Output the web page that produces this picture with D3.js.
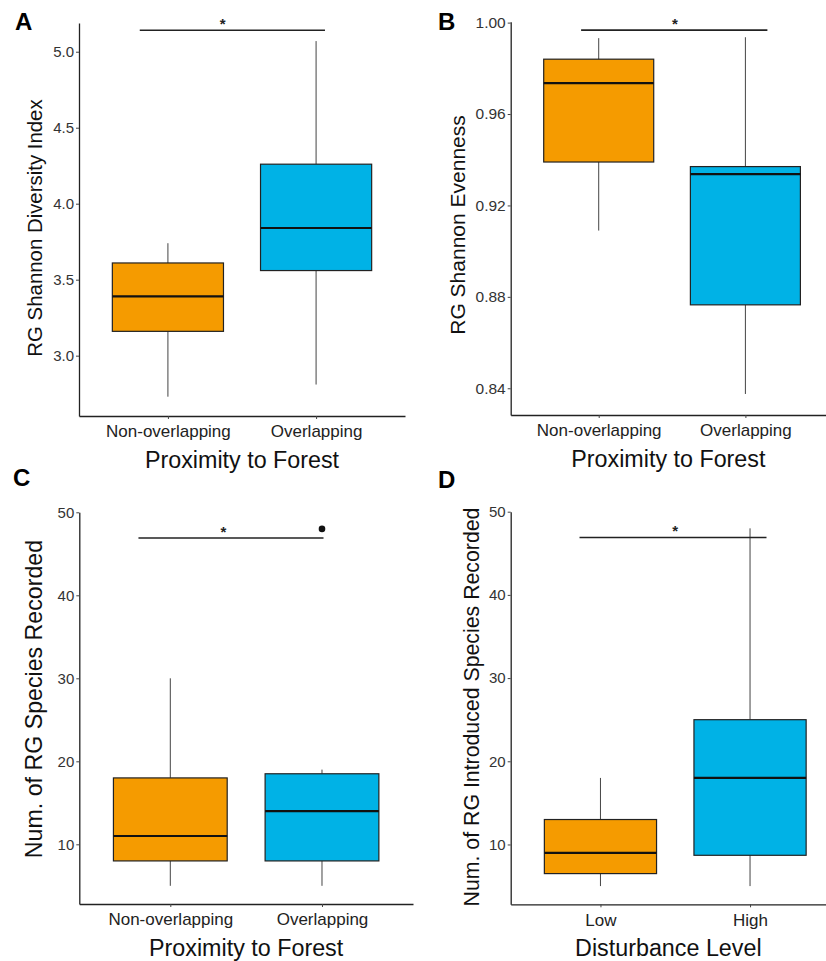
<!DOCTYPE html>
<html>
<head>
<meta charset="utf-8">
<script src="https://cdn.jsdelivr.net/npm/d3@7"></script>
<style>
  body { margin: 0; background: #fff; }
  text { font-family: "Liberation Sans", Arial, sans-serif; }
</style>
</head>
<body>
<div id="chart"></div>
<script>
const proximityGroups = ["Non-overlapping", "Overlapping"];
const disturbanceGroups = ["Low", "High"];
const boxColors = ["#F59B00", "#00B2E6"];

// [lower whisker, Q1, median, Q3, upper whisker]
const diversityIndex = [[2.73, 3.16, 3.39, 3.61, 3.74], [2.81, 3.56, 3.84, 4.26, 5.07]];
const evenness = [[0.909, 0.939, 0.9735, 0.984, 0.9932], [0.8375, 0.8765, 0.9337, 0.937, 0.9936]];
const speciesRecorded = [[5, 8, 11, 18, 30], [5, 8, 14, 18.5, 19]];
const speciesOutliers = [[], [48]];
const introducedRecorded = [[5, 6.5, 9, 13, 18], [5, 8.7, 18, 25, 48]];

const ticksDiversity = [3.0, 3.5, 4.0, 4.5, 5.0];
const ticksEvenness = [0.84, 0.88, 0.92, 0.96, 1.00];
const ticksCount = [10, 20, 30, 40, 50];

// significance bars: y value, x extent (group units), star position
const sigDiversity = { value: 5.141, from: 0.81, to: 2.06, star: 1.37 };
const sigEvenness = { value: 0.9967, from: 0.88, to: 2.15, star: 1.52 };
const sigSpecies = { value: 46.9, from: 0.79, to: 2.01, star: 1.35 };
const sigIntroduced = { value: 46.9, from: 0.86, to: 2.11, star: 1.5 };

const svg = d3.select("#chart").append("svg")
    .attr("width", 826)
    .attr("height", 961);

const panels = [
  { label: "A", lx: 15, ly: 30, left: 79, right: 405, top: 23, bottom: 416,
    yDomain: [2.603, 5.189], ticks: ticksDiversity, fmt: d3.format(".1f"), tickFont: 15,
    groups: proximityGroups, stats: diversityIndex, outliers: [[], []], sig: sigDiversity,
    yTitle: "RG Shannon Diversity Index", yTitleX: 41.5, yTitleY: 228, yTitleSize: 20.4,
    xTitle: "Proximity to Forest" },
  { label: "B", lx: 438, ly: 30, left: 510.7, right: 833.4, top: 21.7, bottom: 415,
    yDomain: [0.8283, 1.0004], ticks: ticksEvenness, fmt: d3.format(".2f"), tickFont: 15.5,
    groups: proximityGroups, stats: evenness, outliers: [[], []], sig: sigEvenness,
    yTitle: "RG Shannon Evenness", yTitleX: 465, yTitleY: 225, yTitleSize: 21,
    xTitle: "Proximity to Forest" },
  { label: "C", lx: 13, ly: 486, left: 79.3, right: 413, top: 512.3, bottom: 904,
    yDomain: [2.81, 50], ticks: ticksCount, fmt: d3.format("d"), tickFont: 15,
    groups: proximityGroups, stats: speciesRecorded, outliers: speciesOutliers, sig: sigSpecies,
    yTitle: "Num. of RG Species Recorded", yTitleX: 41.5, yTitleY: 699, yTitleSize: 23.2,
    xTitle: "Proximity to Forest" },
  { label: "D", lx: 438, ly: 488, left: 510.7, right: 839.8, top: 511.7, bottom: 904.3,
    yDomain: [2.81, 50], ticks: ticksCount, fmt: d3.format("d"), tickFont: 15,
    groups: disturbanceGroups, stats: introducedRecorded, outliers: [[], []], sig: sigIntroduced,
    yTitle: "Num. of RG Introduced Species Recorded", yTitleX: 479, yTitleY: 707, yTitleSize: 21.3,
    xTitle: "Disturbance Level" }
];

panels.forEach(drawPanel);

function drawPanel(p) {
  const g = svg.append("g");
  const x = d3.scaleLinear().domain([0.4, 2.6]).range([p.left, p.right]);
  const y = d3.scaleLinear().domain(p.yDomain).range([p.bottom, p.top]);
  const bw = (x(2) - x(1)) * 0.75;

  const boxes = g.selectAll(".box")
    .data(p.stats.map((s, i) => ({ s, i })))
    .enter().append("g")
    .attr("class", "box");

  // whiskers
  boxes.append("line")
    .attr("x1", d => x(d.i + 1)).attr("x2", d => x(d.i + 1))
    .attr("y1", d => y(d.s[0])).attr("y2", d => y(d.s[1]))
    .attr("stroke", "#444").attr("stroke-width", 1);
  boxes.append("line")
    .attr("x1", d => x(d.i + 1)).attr("x2", d => x(d.i + 1))
    .attr("y1", d => y(d.s[3])).attr("y2", d => y(d.s[4]))
    .attr("stroke", "#444").attr("stroke-width", 1);

  boxes.append("rect")
    .attr("x", d => x(d.i + 1) - bw / 2)
    .attr("y", d => y(d.s[3]))
    .attr("width", bw)
    .attr("height", d => y(d.s[1]) - y(d.s[3]))
    .attr("fill", d => boxColors[d.i])
    .attr("stroke", "#222")
    .attr("stroke-width", 1.2);

  boxes.append("line")
    .attr("x1", d => x(d.i + 1) - bw / 2).attr("x2", d => x(d.i + 1) + bw / 2)
    .attr("y1", d => y(d.s[2])).attr("y2", d => y(d.s[2]))
    .attr("stroke", "#111").attr("stroke-width", 2.2);

  // outliers
  const pts = [];
  p.outliers.forEach((arr, i) => arr.forEach(v => pts.push({ i, v })));
  g.selectAll(".outlier")
    .data(pts)
    .enter().append("circle")
    .attr("cx", d => x(d.i + 1))
    .attr("cy", d => y(d.v))
    .attr("r", 3.3)
    .attr("fill", "#111");

  // significance bar
  g.append("line")
    .attr("x1", x(p.sig.from)).attr("x2", x(p.sig.to))
    .attr("y1", y(p.sig.value)).attr("y2", y(p.sig.value))
    .attr("stroke", "#222").attr("stroke-width", 1.6);
  g.append("text")
    .attr("x", x(p.sig.star))
    .attr("y", y(p.sig.value) - 1)
    .attr("text-anchor", "middle")
    .style("font-size", "15px")
    .style("font-weight", "bold")
    .style("fill", "#222")
    .text("*");

  // y axis
  const yAxis = g.append("g")
    .attr("transform", `translate(${p.left},0)`)
    .call(d3.axisLeft(y).tickValues(p.ticks).tickFormat(p.fmt).tickSize(3).tickSizeOuter(0).tickPadding(2));
  yAxis.select(".domain").attr("stroke", "#222").attr("stroke-width", 1.3);
  yAxis.selectAll(".tick line").attr("stroke", "#444");
  yAxis.selectAll(".tick text")
    .style("font-size", p.tickFont + "px")
    .style("fill", "#333");

  // x axis
  const xAxis = g.append("g")
    .attr("transform", `translate(0,${p.bottom})`)
    .call(d3.axisBottom(x).tickValues([1, 2]).tickFormat(d => p.groups[d - 1]).tickSize(3).tickSizeOuter(0).tickPadding(6.4));
  xAxis.select(".domain").attr("stroke", "#222").attr("stroke-width", 1.3);
  xAxis.selectAll(".tick line").attr("stroke", "#444");
  xAxis.selectAll(".tick text")
    .style("font-size", "17px")
    .style("fill", "#222");

  // titles
  g.append("text")
    .attr("x", (p.left + Math.min(p.right, 826)) / 2 + (p.right > 826 ? 0 : 0))
    .attr("y", p.bottom + 52)
    .attr("text-anchor", "middle")
    .style("font-size", "23.3px")
    .style("fill", "#111")
    .text(p.xTitle);

  g.append("text")
    .attr("transform", `translate(${p.yTitleX},${p.yTitleY}) rotate(-90)`)
    .attr("text-anchor", "middle")
    .style("font-size", p.yTitleSize + "px")
    .style("fill", "#111")
    .text(p.yTitle);

  g.append("text")
    .attr("x", p.lx)
    .attr("y", p.ly)
    .style("font-size", "24px")
    .style("font-weight", "bold")
    .style("fill", "#000")
    .text(p.label);
}
</script>
</body>
</html>
